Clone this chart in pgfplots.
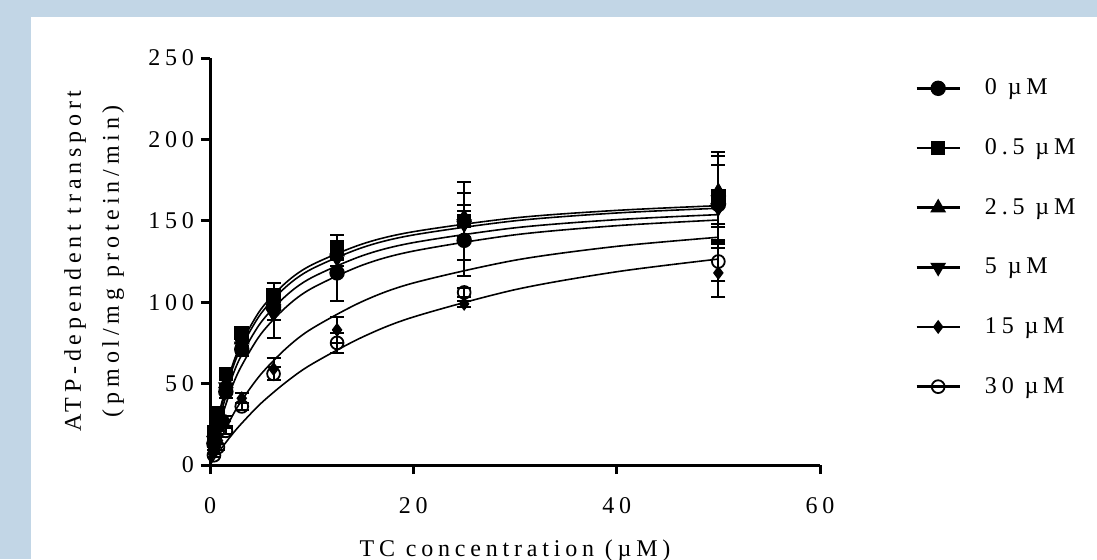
\documentclass[border=0pt]{standalone}
\usepackage{fontspec}
\setmainfont{Liberation Serif}[LetterSpace=20]
\usepackage{pgfplots}
\pgfplotsset{compat=1.18}
\definecolor{bgblue}{RGB}{194,214,230}

\pgfplotsset{
  datamark/.style={black, only marks, line width=0.9pt,
    error bars/y dir=both, error bars/y explicit,
    error bars/error bar style={black, line width=1pt},
    error bars/error mark options={black, line width=1pt, mark size=3.5pt, rotate=90}},
  fit/.style={black, line width=0.8pt, no marks, smooth, forget plot},
  legend image code/.code={
    \draw[black, line width=1.3pt] (0pt,0pt) -- (21.5pt,0pt);
    \draw[mark repeat=2, mark phase=2, #1] plot coordinates {(0pt,0pt) (10.75pt,0pt) (21.5pt,0pt)};
  },
}

\begin{document}
\begin{tikzpicture}
\useasboundingbox (0,0) rectangle (548.5pt,279.5pt);
\clip (0,0) rectangle (548.5pt,279.5pt);
\fill[bgblue] (0,0) rectangle (548.5pt,279.5pt);
\fill[white] (15.5pt,0pt) rectangle (548.5pt,271pt);
\begin{axis}[
  at={(105pt,47pt)}, anchor=south west,
  scale only axis, width=305pt, height=203.5pt,
  xmin=0, xmax=60, ymin=0, ymax=250,
  xtick={0,20,40,60}, ytick={0,50,100,150,200,250},
  axis x line*=bottom, axis y line*=left,
  axis line style={black, line width=1.5pt},
  tick style={black, line width=1.5pt},
  tick align=outside, major tick length=4.5pt,
  /pgf/number format/assume math mode=true,
  ticklabel style={font=\fontsize{12}{14}\selectfont},
  xticklabel style={yshift=-8pt},
  clip=false,
  xlabel={TC concentration (µM)},
  xlabel style={at={(axis description cs:0.5,-0.2236)}, anchor=base,
    font=\fontsize{12}{14}\selectfont},
  ylabel={ATP-dependent transport\\(pmol/mg protein/min)},
  ylabel style={at={(axis description cs:-0.19,0.501)}, anchor=center,
    rotate=0, align=center, font=\fontsize{12}{19}\selectfont},
  legend style={draw=none, fill=none, at={(1.1557,0.559)}, anchor=west,
    inner sep=0pt, row sep=20.4pt, column sep=12pt,
    font=\fontsize{12}{14}\selectfont,
    nodes={inner sep=0pt, anchor=west}},
  legend cell align=left,
]
% fitted curves
\addplot[fit] coordinates {(0,0) (0.5,19.1) (1,34.4) (2,57.3) (3,73.7) (5,95.6) (7.5,112.2) (10,122.9) (15,135.8) (20,143.3) (30,151.8) (40,156.4) (50,159.3)};
\addplot[fit] coordinates {(0,0) (0.5,18.2) (1,32.9) (2,55.2) (3,71.3) (5,92.9) (7.5,109.6) (10,120.4) (15,133.6) (20,141.3) (30,150.0) (40,154.8) (50,157.7)};
\addplot[fit] coordinates {(0,0) (0.5,16.5) (1,30.0) (2,50.9) (3,66.3) (5,87.5) (7.5,104.1) (10,115.1) (15,128.6) (20,136.6) (30,145.7) (40,150.7) (50,153.8)};
\addplot[fit] coordinates {(0,0) (0.5,14.2) (1,26.2) (2,45.2) (3,59.7) (5,80.4) (7.5,97.1) (10,108.5) (15,122.8) (20,131.4) (30,141.4) (40,147.0) (50,150.5)};
\addplot[fit] coordinates {(0,0) (0.5,7.9) (1,15.2) (2,27.8) (3,38.6) (5,55.7) (7.5,71.7) (10,83.7) (15,100.5) (20,111.8) (30,125.8) (40,134.3) (50,139.9)};
\addplot[fit] coordinates {(0,0) (0.5,4.7) (1,9.2) (2,17.4) (3,24.8) (5,37.8) (7.5,51.0) (10,61.9) (15,78.6) (20,90.9) (30,107.7) (40,118.7) (50,126.5)};

% measured points
\addplot[datamark, mark=*, mark size=3.4pt] coordinates {
  (0.39,13) +- (0,2) (0.78,24) +- (0,3) (1.56,45) +- (0,4) (3.125,71) +- (0,4)
  (6.25,97) +- (0,8) (12.5,118) +- (0,17) (25,138) +- (0,22) (50,160) +- (0,24)};
\addlegendentry{0 µM}
\addplot[datamark, mark=square*, mark size=3.2pt] coordinates {
  (0.39,20) +- (0,3) (0.78,32) +- (0,3) (1.56,56) +- (0,3) (3.125,81) +- (0,4)
  (6.25,104) +- (0,8) (12.5,134) +- (0,7) (25,150) +- (0,24) (50,165) +- (0,27)};
\addlegendentry{0.5 µM}
\addplot[datamark, mark=triangle*, mark size=3.7pt] coordinates {
  (0.39,16) +- (0,2) (0.78,29) +- (0,3) (1.56,50) +- (0,4) (3.125,77) +- (0,4)
  (6.25,101) +- (0,6) (12.5,131) +- (0,5) (25,152) +- (0,15) (50,168) +- (0,22)};
\addlegendentry{2.5 µM}
\addplot[datamark, mark=triangle*, mark size=3.7pt, mark options={rotate=180}] coordinates {
  (0.39,15) +- (0,2) (0.78,27) +- (0,3) (1.56,48) +- (0,4) (3.125,73) +- (0,4)
  (6.25,93) +- (0,15) (12.5,127) +- (0,5) (25,148) +- (0,8) (50,158) +- (0,10)};
\addlegendentry{5 µM}
\addplot[datamark, mark=diamond*, mark size=2.8pt] coordinates {
  (0.39,8) +- (0,1) (0.78,15) +- (0,2) (1.56,27) +- (0,3) (3.125,41) +- (0,3)
  (6.25,59) +- (0,7) (12.5,83) +- (0,8) (25,99) +- (0,2) (50,118) +- (0,15)};
\addlegendentry{15 µM}
\addplot[datamark, mark=o, mark size=3.2pt] coordinates {
  (0.39,6) +- (0,1) (0.78,11) +- (0,2) (1.56,21) +- (0,2) (3.125,36) +- (0,2)
  (6.25,56) +- (0,4) (12.5,75) +- (0,6) (25,106) +- (0,3) (50,125) +- (0,12)};
\addlegendentry{30 µM}
\end{axis}
\end{tikzpicture}
\end{document}
